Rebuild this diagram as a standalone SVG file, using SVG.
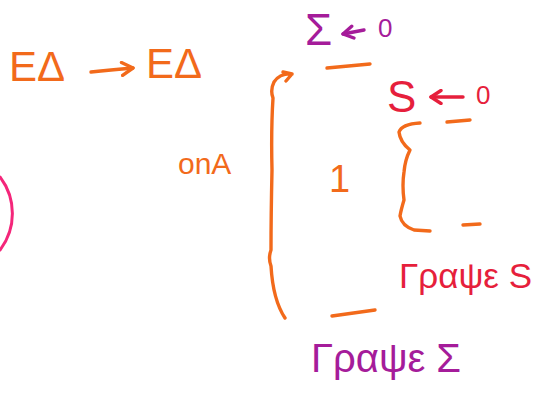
<svg xmlns="http://www.w3.org/2000/svg" width="538" height="399" viewBox="0 0 538 399">
  <style>
    .ink { fill: none; stroke-linecap: round; stroke-linejoin: round; }
    .orange { stroke: #f26a1b; stroke-width: 3.4; }
    .purple { stroke: #a51c9a; stroke-width: 3.4; }
    .red { stroke: #e61f3c; stroke-width: 3.4; }
    .pink { stroke: #f4267a; stroke-width: 3; }
    .t { font-family: "Liberation Sans", "DejaVu Sans", sans-serif; }
    .to { fill: #f26a1b; }
    .tp { fill: #a51c9a; }
    .tr { fill: #e61f3c; }
  </style>
  <defs>
    <marker id="head-orange" viewBox="0 0 16 16" refX="13" refY="8" markerWidth="16" markerHeight="16" markerUnits="userSpaceOnUse" orient="auto">
      <path d="M2 1.5 L13 8 L2 14.5" fill="none" stroke="#f26a1b" stroke-width="3.4" stroke-linecap="round" stroke-linejoin="round"/>
    </marker>
    <marker id="head-purple" viewBox="0 0 16 16" refX="13" refY="8" markerWidth="16" markerHeight="16" markerUnits="userSpaceOnUse" orient="auto">
      <path d="M3 2 L13 8 L3 14" fill="none" stroke="#a51c9a" stroke-width="3.4" stroke-linecap="round" stroke-linejoin="round"/>
    </marker>
    <marker id="head-red" viewBox="0 0 16 16" refX="13" refY="8" markerWidth="16" markerHeight="16" markerUnits="userSpaceOnUse" orient="auto">
      <path d="M3 1.5 L13 8 L3 14.5" fill="none" stroke="#e61f3c" stroke-width="3.4" stroke-linecap="round" stroke-linejoin="round"/>
    </marker>
  </defs>

  <rect width="538" height="399" fill="#ffffff"/>

  <!-- input → input -->
  <g id="io-line">
    <text class="t to" x="9" y="81" font-size="42">ΕΔ</text>
    <text class="t to" x="146" y="78" font-size="42">ΕΔ</text>
  </g>

  <!-- partial circle at the left margin -->
  <g id="circle-edge">
    <path class="ink pink" d="M0 177 A60 60 0 0 1 0 250"/>
  </g>

  <!-- outer initialisation -->
  <g id="sum-init">
    <text class="t tp" x="305" y="45" font-size="44">Σ</text>
    <text class="t tp" x="378" y="37" font-size="26">0</text>
  </g>

  <!-- inner initialisation -->
  <g id="s-init">
    <text class="t tr" x="387" y="112" font-size="44">S</text>
    <text class="t tr" x="476" y="104" font-size="26">0</text>
  </g>

  <!-- loop label -->
  <g id="loop-label">
    <text class="t to" x="178" y="174" font-size="30">οnΑ</text>
  </g>

  <!-- loop body marker -->
  <g id="body-one">
    <text class="t to" x="329" y="192" font-size="38">1</text>
  </g>

  <!-- inner output -->
  <g id="print-s">
    <text class="t tr" x="399" y="288" font-size="35">Γραψε S</text>
  </g>

  <!-- outer output -->
  <g id="print-sum">
    <text class="t tp" x="311" y="372" font-size="40">Γραψε Σ</text>
  </g>

  <!-- strokes: arrows, braces and dashes -->
  <g id="connectors">
    <path class="ink orange" d="M91 72 Q110 70 133 68" marker-end="url(#head-orange)"/>
    <path class="ink purple" d="M364 30 L343 34" marker-end="url(#head-purple)"/>
    <path class="ink red" d="M463 97 L431 97" marker-end="url(#head-red)"/>

    <!-- outer brace -->
    <path class="ink orange" d="M292 74 Q280 73 274 82 Q270 90 273 98 Q271 130 272 170 Q271 215 271 250 Q268 258 271 266 Q273 300 285 318 M292 74 L283 72 M292 74 L286 81"/>
    <!-- inner brace -->
    <path class="ink orange" d="M420 123 Q402 124 399 132 Q400 142 410 150 Q405 160 404 172 Q402 185 404 200 Q401 210 400 216 Q402 226 414 230 L430 231"/>

    <!-- dashes -->
    <path class="ink orange" d="M327 68 L370 64"/>
    <path class="ink orange" d="M332 316 L375 310"/>
    <path class="ink orange" d="M447 122 L470 120"/>
    <path class="ink orange" d="M463 225 L480 224"/>
  </g>
</svg>
